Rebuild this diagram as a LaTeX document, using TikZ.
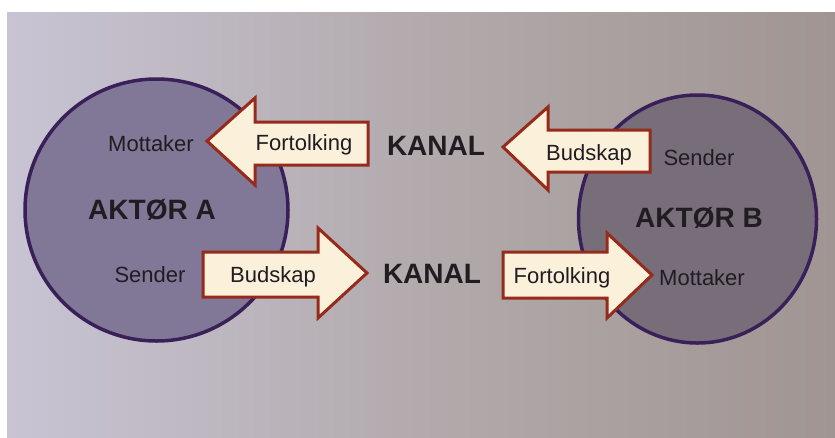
\documentclass[tikz,border=0pt]{standalone}
\usepackage{fontspec}
\setmainfont{Liberation Sans}
\usetikzlibrary{shapes.geometric}
\definecolor{bgL}{RGB}{200,196,212}
\definecolor{bgM}{RGB}{178,170,172}
\definecolor{bgR}{RGB}{160,149,146}
\definecolor{circfillA}{RGB}{128,120,150}
\definecolor{circfillB}{RGB}{120,110,122}
\definecolor{circline}{RGB}{58,32,88}
\definecolor{arrfill}{RGB}{251,240,218}
\definecolor{arrline}{RGB}{150,42,28}
\definecolor{txt}{RGB}{32,28,34}
\begin{document}
\begin{tikzpicture}[x=1pt,y=-1pt,
  actor/.style={ellipse, draw=circline, line width=3.5pt, inner sep=0pt},
  arrowshape/.style={draw=arrline, line width=3pt, fill=arrfill, line join=miter},
  lbl/.style={text=txt, font=\fontsize{22}{26}\selectfont, inner sep=0pt, anchor=base},
  big/.style={text=txt, font=\fontsize{28}{32}\selectfont\bfseries, inner sep=0pt, anchor=base}]
\useasboundingbox (0,0) rectangle (835,437);
\fill[white] (0,0) rectangle (835,437);
\shade[left color=bgL, right color=bgM] (7,12) rectangle (421,437);
\shade[left color=bgM, right color=bgR] (420,12) rectangle (835,437);
% actors
\node[actor, fill=circfillA, minimum width=263pt, minimum height=262pt] (A) at (156.5,210) {};
\node[actor, fill=circfillB, minimum width=238pt, minimum height=248pt] (B) at (697.5,219) {};
% arrows
\draw[arrowshape] (368,122) -- (255,122) -- (255,98) -- (207,141) -- (255,185) -- (255,165) -- (368,165) -- cycle;
\draw[arrowshape] (203,252) -- (318,252) -- (318,228) -- (367,273) -- (318,318) -- (318,297) -- (203,297) -- cycle;
\draw[arrowshape] (650,130) -- (548,130) -- (548,107) -- (503,147) -- (548,190) -- (548,172) -- (650,172) -- cycle;
\draw[arrowshape] (503,252) -- (607,252) -- (607,233) -- (652,275) -- (607,318) -- (607,298) -- (503,298) -- cycle;
% labels
\node[lbl] (mA) at (151,151) {Mottaker};
\node[lbl] (fA) at (304,150) {Fortolking};
\node[big] (k1) at (436,155) {KANAL};
\node[lbl] (bB) at (589,160) {Budskap};
\node[lbl] (sB) at (699,165) {Sender};
\node[big] (aA) at (152,219) {AKTØR A};
\node[big] (aB) at (699,227) {AKTØR B};
\node[lbl] (sA) at (150,282) {Sender};
\node[lbl] (bA) at (273,282) {Budskap};
\node[big] (k2) at (432,283) {KANAL};
\node[lbl] (fB) at (562,283) {Fortolking};
\node[lbl] (mB) at (702,285) {Mottaker};
\end{tikzpicture}
\end{document}
